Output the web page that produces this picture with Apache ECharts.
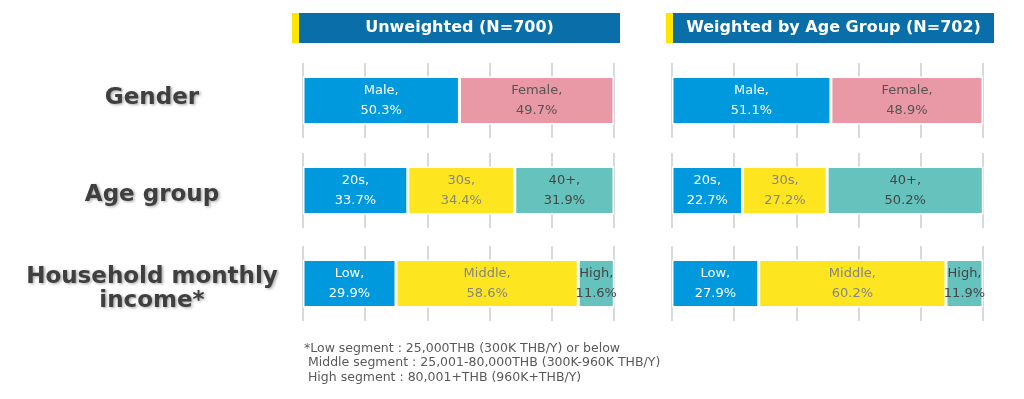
<!DOCTYPE html>
<html>
<head>
<meta charset="utf-8">
<title>Sample profile</title>
<script src="https://cdn.jsdelivr.net/npm/echarts@6/dist/echarts.min.js"></script>
<style>
  html, body { margin: 0; padding: 0; background: #fff; }
  #chart { width: 1024px; height: 399px; }
</style>
</head>
<body>
<div id="chart"></div>
<script>
// 数据
var panelTitles = ['Unweighted (N=700)', 'Weighted by Age Group (N=702)'];
var rowNames = ['Gender', 'Age group', 'Household monthly\nincome*'];
var genderCats = ['Male', 'Female'];
var ageCats = ['20s', '30s', '40+'];
var incomeCats = ['Low', 'Middle', 'High'];
var unweightedGender = [50.3, 49.7];
var unweightedAge = [33.7, 34.4, 31.9];
var unweightedIncome = [29.9, 58.6, 11.6];
var weightedGender = [51.1, 48.9];
var weightedAge = [22.7, 27.2, 50.2];
var weightedIncome = [27.9, 60.2, 11.9];
var footnoteLines = [
    '*Low segment : 25,000THB (300K THB/Y) or below',
    ' Middle segment : 25,001-80,000THB (300K-960K THB/Y)',
    ' High segment : 80,001+THB (960K+THB/Y)'
];

var BLUE = '#0099de', PINK = '#e899a5', YELLOW = '#fde61f', TEAL = '#66c2bd';
var rowCats = [genderCats, ageCats, incomeCats];
var rowColors = [[BLUE, PINK], [BLUE, YELLOW, TEAL], [BLUE, YELLOW, TEAL]];
var labelColors = {};
labelColors[BLUE] = '#ffffff';
labelColors[PINK] = '#555555';
labelColors[YELLOW] = '#858585';
labelColors[TEAL] = '#454545';
var panelValues = [
    [unweightedGender, unweightedAge, unweightedIncome],
    [weightedGender, weightedAge, weightedIncome]
];

var panelLeft = [303, 672];
var panelWidth = 311;
var rowTop = [63, 153, 246];
var rowHeight = 75;

var chart = echarts.init(document.getElementById('chart'));

var grids = [], xAxes = [], yAxes = [], series = [];
for (var p = 0; p < 2; p++) {
    for (var r = 0; r < 3; r++) {
        var idx = p * 3 + r;
        grids.push({ left: panelLeft[p], top: rowTop[r], width: panelWidth, height: rowHeight });
        xAxes.push({
            gridIndex: idx, type: 'value', min: 0, max: 100, interval: 20,
            axisLine: { show: false }, axisTick: { show: false }, axisLabel: { show: false },
            splitLine: { show: true, lineStyle: { color: '#d9d9d9', width: 2 } }
        });
        yAxes.push({
            gridIndex: idx, type: 'category', data: [rowNames[r]], show: false
        });
        var cats = rowCats[r];
        for (var k = 0; k < cats.length; k++) {
            var c = rowColors[r][k];
            series.push({
                type: 'bar',
                name: cats[k],
                xAxisIndex: idx,
                yAxisIndex: idx,
                stack: 'row' + idx,
                barWidth: 48,
                data: [panelValues[p][r][k]],
                itemStyle: { color: c, borderColor: '#ffffff', borderWidth: 1.5 },
                label: {
                    show: true,
                    position: 'inside',
                    color: labelColors[c],
                    fontFamily: 'DejaVu Sans',
                    fontSize: 13,
                    lineHeight: 20,
                    formatter: function (params) {
                        return params.seriesName + ',\n' + params.value.toFixed(1) + '%';
                    }
                }
            });
        }
    }
}

var graphics = [];
// 面板标题
var headerX = [292, 666];
for (var p = 0; p < 2; p++) {
    graphics.push({
        type: 'rect', shape: { x: headerX[p], y: 13, width: 8, height: 30 },
        style: { fill: '#ffe600' }, silent: true
    });
    graphics.push({
        type: 'rect', shape: { x: headerX[p] + 7, y: 13, width: 321, height: 30 },
        style: { fill: '#0a6ea8' }, silent: true
    });
    graphics.push({
        type: 'text', x: headerX[p] + 7 + 160.5, y: 28,
        style: {
            text: panelTitles[p], fill: '#ffffff',
            font: 'bold 16px "DejaVu Sans"',
            textAlign: 'center', textVerticalAlign: 'middle'
        }
    });
}
// 行标题
var rowLabelY = [98, 195, 289];
for (var r = 0; r < 3; r++) {
    graphics.push({
        type: 'text', x: 152, y: rowLabelY[r],
        style: {
            text: rowNames[r], fill: '#3f3f3f',
            font: 'bold 23px "DejaVu Sans"',
            lineHeight: 24,
            textAlign: 'center', textVerticalAlign: 'middle',
            textShadowColor: 'rgba(0,0,0,0.35)', textShadowBlur: 3,
            textShadowOffsetX: 1.5, textShadowOffsetY: 1.5
        }
    });
}
// 脚注
graphics.push({
    type: 'text', x: 304, y: 341,
    style: {
        text: footnoteLines.join('\n'), fill: '#595959',
        font: '12.5px "DejaVu Sans"', lineHeight: 14.5
    }
});

chart.setOption({
    backgroundColor: '#ffffff',
    animation: false,
    grid: grids,
    xAxis: xAxes,
    yAxis: yAxes,
    series: series,
    graphic: graphics
});
</script>
</body>
</html>
